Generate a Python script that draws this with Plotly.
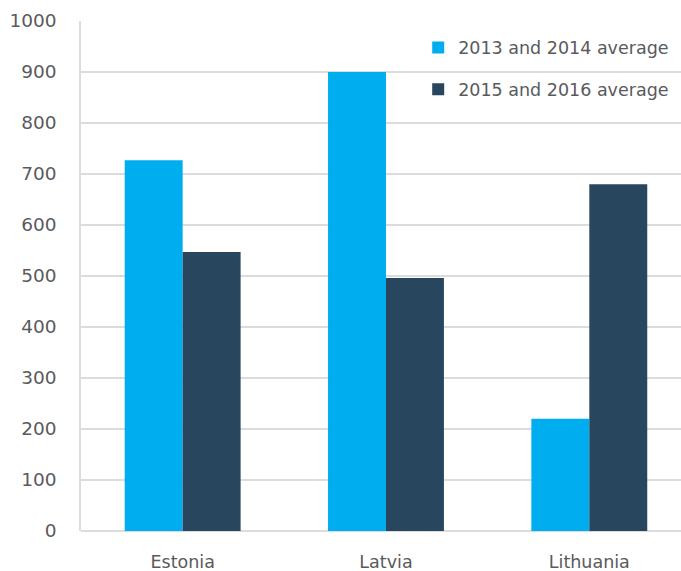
import plotly.graph_objects as go

countries = ["Estonia", "Latvia", "Lithuania"]
avg_2013_2014 = [727, 900, 220]
avg_2015_2016 = [547, 496, 680]
series_names = ["2013 and 2014 average", "2015 and 2016 average"]
y_ticks = [0, 100, 200, 300, 400, 500, 600, 700, 800, 900, 1000]

LIGHT = "#00AEEF"
DARK = "#28475F"
TEXT = "#5A5A5C"
GRID = "#DCDCDC"
FONT = "DejaVu Sans, Open Sans, sans-serif"

fig = go.Figure()
fig.add_trace(go.Bar(x=countries, y=avg_2013_2014, name=series_names[0],
                     marker=dict(color=LIGHT, line=dict(width=0)),
                     legendgroup="a"))
fig.add_trace(go.Bar(x=countries, y=avg_2015_2016, name=series_names[1],
                     marker=dict(color=DARK, line=dict(width=0)),
                     legendgroup="b"))

fig.update_layout(
    width=681, height=571,
    margin=dict(l=81, r=0, t=21, b=40),
    paper_bgcolor="white", plot_bgcolor="white",
    barmode="group", bargap=0.43, bargroupgap=0,
    font=dict(family=FONT, size=17, color=TEXT),
    showlegend=True,
    legend=dict(x=0.562, y=0.983, xanchor="left", yanchor="top",
                bgcolor="rgba(0,0,0,0)", font=dict(family=FONT, size=17.5, color=TEXT),
                traceorder="grouped", tracegroupgap=16,
                itemwidth=30),
    xaxis=dict(range=[-0.5, 2.451], showgrid=False, showline=False,
               zeroline=False, ticks="outside", ticklen=15,
               tickcolor="rgba(0,0,0,0)", tickfont=dict(family=FONT, size=17.5, color=TEXT)),
    yaxis=dict(range=[0, 1000], tickvals=y_ticks, showgrid=True,
               gridcolor=GRID, gridwidth=1.5, zeroline=True,
               zerolinecolor=GRID, zerolinewidth=1.5,
               showline=True, linecolor=GRID, linewidth=1.5,
               ticks="outside", ticklen=19, tickcolor="rgba(0,0,0,0)",
               tickfont=dict(family=FONT, size=18.5, color=TEXT)),
)

fig.write_html("out.html")
